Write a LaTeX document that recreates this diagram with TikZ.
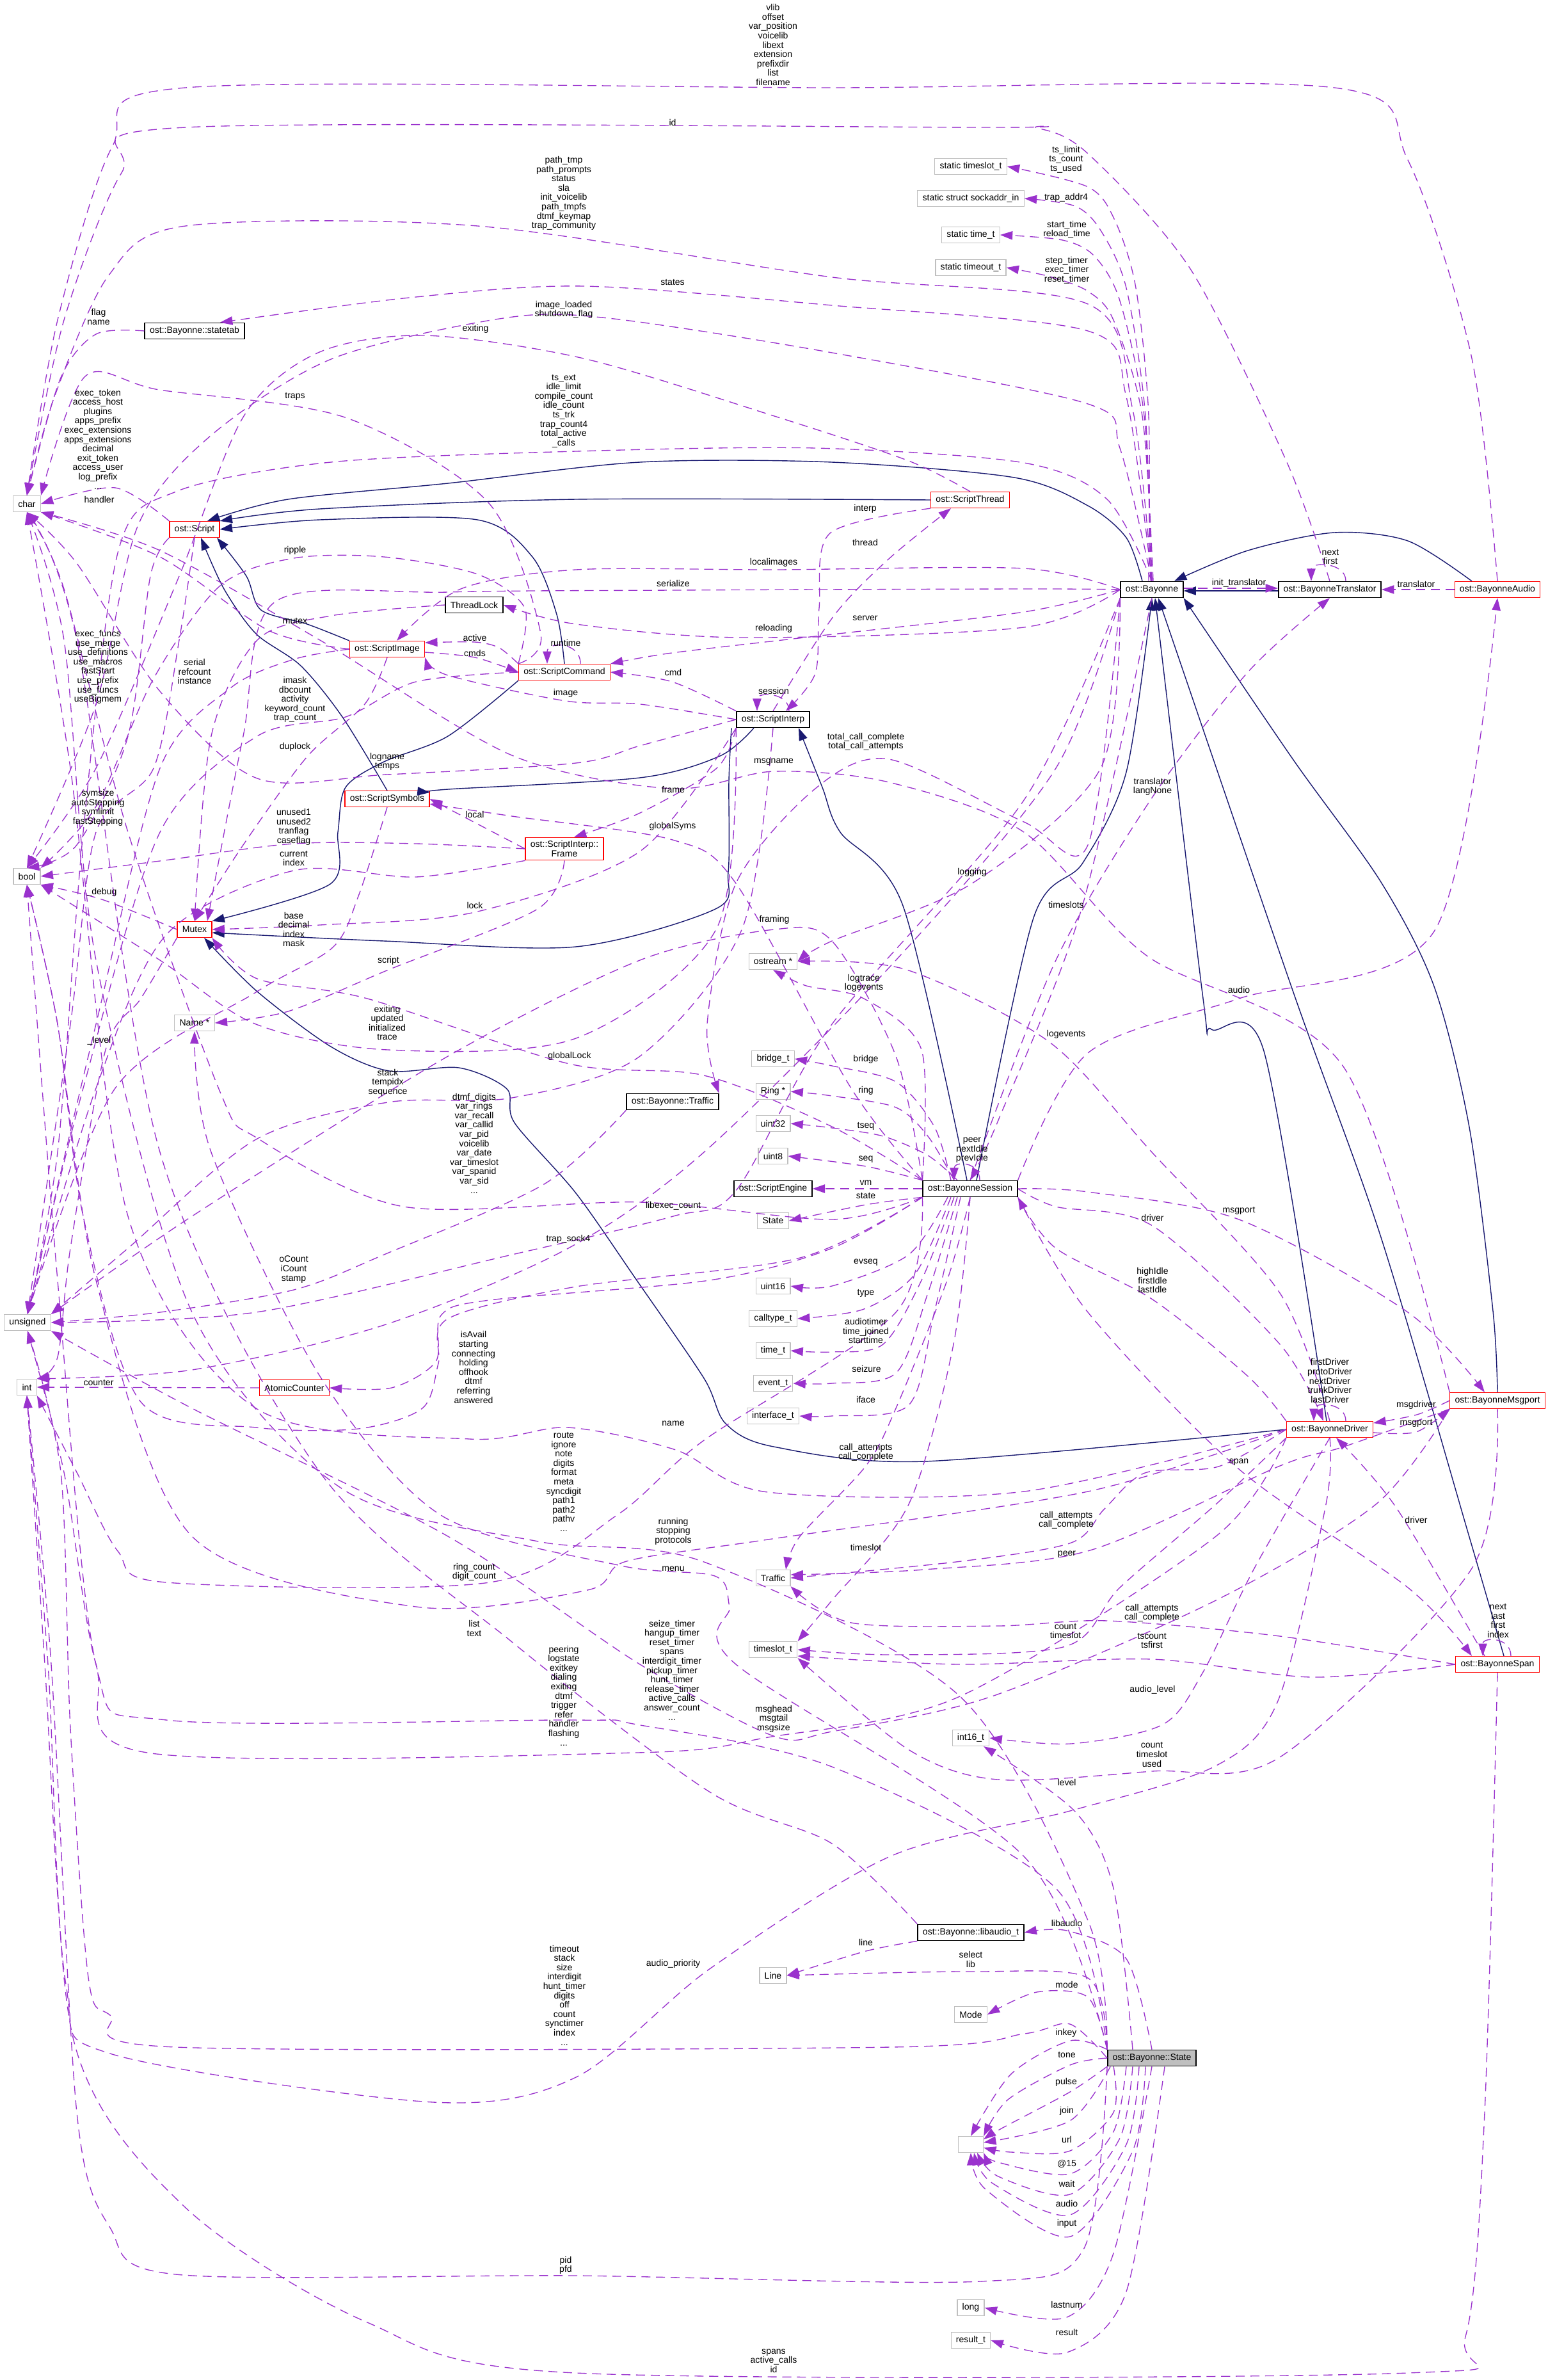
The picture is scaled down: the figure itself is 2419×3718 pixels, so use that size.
\documentclass[tikz,border=0pt]{standalone}
\usepackage{fontspec}
\setmainfont{Liberation Sans}
\usetikzlibrary{arrows.meta}
\definecolor{dgpurple}{HTML}{9A32CD}
\definecolor{dgnavy}{HTML}{191970}
\definecolor{dggray}{HTML}{BFBFBF}
\newcommand{\dgfont}{\fontsize{4}{4.15}\selectfont}
\tikzset{
  cls/.style={draw=black, line width=0.45pt, fill=white, font=\dgfont, align=center, inner xsep=2.2pt, inner ysep=0pt, minimum height=0.25cm},
  redcls/.style={cls, draw=red, line width=0.35pt},
  graycls/.style={cls, draw=dggray, line width=0.35pt},
  lbl/.style={font=\dgfont, align=center, inner sep=0pt},
  dep/.style={draw=dgpurple, line width=0.38pt, dash pattern=on 4pt off 2.5pt, -{Triangle[length=5.5pt,width=3.8pt]}},
  inh/.style={draw=dgnavy, line width=0.4pt, -{Triangle[length=5.5pt,width=3.8pt]}},
  lane/.style={smooth, tension=0.5},
}
\begin{document}
\begin{tikzpicture}[x=0.01cm, y=-0.01cm]
\useasboundingbox (0,0) rectangle (2419,3718);

\node[graycls] (char) at (42,787) {char};
\node[graycls] (bool) at (42,1369) {bool};
\node[graycls] (unsigned) at (43,2066) {unsigned};
\node[graycls] (int) at (42,2167) {int};
\node[cls] (statetab) at (304,517) {ost::Bayonne::statetab};
\node[redcls] (script) at (304,827) {ost::Script};
\node[cls] (threadlock) at (741,945) {ThreadLock};
\node[redcls] (image) at (605,1014) {ost::ScriptImage};
\node[redcls] (command) at (882,1050) {ost::ScriptCommand};
\node[redcls] (symbols) at (605,1248) {ost::ScriptSymbols};
\node[redcls] (thread) at (1516,781) {ost::ScriptThread};
\node[cls] (interp) at (1208,1124) {ost::ScriptInterp};
\node[redcls, inner ysep=1.5pt] (frame) at (882,1326) {ost::ScriptInterp::\\Frame};
\node[redcls] (mutex) at (304,1452) {Mutex};
\node[graycls] (name) at (304,1598) {Name *};
\node[cls] (bayonne) at (1800,921) {ost::Bayonne};
\node[cls] (translator) at (2078,921) {ost::BayonneTranslator};
\node[redcls] (audio) at (2340,921) {ost::BayonneAudio};
\node[graycls] (stimeslot) at (1517,260) {static timeslot\_t};
\node[graycls] (ssockaddr) at (1517,310) {static struct sockaddr\_in};
\node[graycls] (stime) at (1517,367) {static time\_t};
\node[graycls] (stimeout) at (1517,418) {static timeout\_t};
\node[graycls] (ostream) at (1208,1502) {ostream *};
\node[graycls] (bridge) at (1208,1654) {bridge\_t};
\node[graycls] (ring) at (1208,1705) {Ring *};
\node[graycls] (uintTT) at (1208,1755) {uint32};
\node[graycls] (uintE) at (1208,1806) {uint8};
\node[cls] (engine) at (1208,1857) {ost::ScriptEngine};
\node[graycls] (statetype) at (1208,1907) {State};
\node[cls] (session) at (1516,1857) {ost::BayonneSession};
\node[cls] (traffic) at (1051,1721) {ost::Bayonne::Traffic};
\node[graycls] (uintST) at (1208,2009) {uint16};
\node[graycls] (calltype) at (1208,2060) {calltype\_t};
\node[graycls] (timet) at (1208,2110) {time\_t};
\node[graycls] (eventt) at (1208,2161) {event\_t};
\node[graycls] (ifacet) at (1208,2212) {interface\_t};
\node[graycls] (traffict) at (1208,2465) {Traffic};
\node[graycls] (timeslott) at (1208,2577) {timeslot\_t};
\node[graycls] (intST) at (1517,2715) {int16\_t};
\node[redcls] (counter) at (460,2168) {AtomicCounter};
\node[redcls] (driver) at (2078,2233) {ost::BayonneDriver};
\node[redcls] (msgport) at (2340,2188) {ost::BayonneMsgport};
\node[redcls] (span) at (2340,2600) {ost::BayonneSpan};
\node[cls] (libaudio) at (1517,3019) {ost::Bayonne::libaudio\_t};
\node[graycls] (linet) at (1208,3086) {Line};
\node[graycls] (modet) at (1517,3147) {Mode};
\node[cls, fill=dggray] (state) at (1800,3215) {ost::Bayonne::State};
\node[graycls, minimum width=0.39cm] (blank) at (1517,3350) {};
\node[graycls] (longt) at (1517,3605) {long};
\node[graycls] (resultt) at (1517,3656) {result\_t};

\draw[inh] plot[lane] coordinates {(image.north west) (480,975) (408,953) (385,900) ([xshift=0.35cm]script.south)};
\draw[inh] plot[lane] coordinates {(symbols.north) (535,1120) (470,1040) (400,990) (350,920) ([xshift=0.1cm]script.south)};
\draw[inh] plot[lane] coordinates {(command.north) (870,960) (832,870) (746,812) (500,812) (script.east)};
\draw[inh] plot[lane] coordinates {(thread.west) (900,780) (500,795) (script.north east)};
\draw[inh] plot[lane] coordinates {([xshift=-0.15cm]bayonne.north) (1760,840) (1700,790) (1585,746) (1300,722) (1000,722) (700,755) (450,780) ([xshift=0.2cm]script.north)};
\draw[inh] plot[lane] coordinates {(command.south west) (700,1150) (600,1190) (540,1230) (528,1300) (516,1381) (mutex.north east)};
\draw[inh] plot[lane] coordinates {([xshift=-0.3cm]interp.south) (1125,1181) (1000,1215) (700,1233) ([yshift=0.1cm]symbols.east)};
\draw[inh] plot[lane] coordinates {([xshift=-0.65cm]interp.south) (1139,1220) (1138,1362) (1118,1420) (900,1479) (600,1470) ([yshift=-0.05cm]mutex.east)};
\draw[inh] plot[lane] coordinates {([xshift=-0.05cm]session.north) (1411,1415) (1313,1300) (1285,1230) ([xshift=0.4cm]interp.south)};
\draw[inh] plot[lane] coordinates {([xshift=0.1cm]session.north) (1615,1434) (1692,1348) (1760,1206) (bayonne.south)};
\draw[inh] plot[lane] coordinates {([xshift=-0.05cm]driver.north) (1975,1642) (1893,1608) (1880,1560) ([xshift=0.05cm]bayonne.south)};
\draw[inh] plot[lane] coordinates {([xshift=0.1cm]span.north) (2296,2401) (2158,1933) (2021,1550) ([xshift=0.1cm]bayonne.south)};
\draw[inh] plot[lane] coordinates {(msgport.north) (2333,2048) (2296,1761) (2241,1541) (2158,1378) (2021,1187) (bayonne.south east)};
\draw[inh] ([yshift=-0.02cm]translator.west) -- ([yshift=-0.02cm]bayonne.east);
\draw[inh] plot[lane] coordinates {([xshift=-0.4cm]audio.north) (2200,845) (2085,832) (1950,860) ([xshift=0.35cm]bayonne.north)};
\draw[inh] plot[lane] coordinates {(driver.west) (1444,2283) (1209,2260) (1134,2224) (1100,2153) (995,2000) (900,1864) (804,1754) (792,1701) (717,1668) (608,1673) (517,1635) (402,1549) ([xshift=0.15cm]mutex.south)};

\draw[dep] plot[lane] coordinates {(audio.north) (2300,560) (2200,250) (2085,137) (1300,137) (290,137) (175,230) (90,500) (char.north)};
\draw[dep] plot[lane] coordinates {(translator.north) (2010,720) (1860,420) (1700,240) (1621,200) (1535,199) (290,199) (190,270) (100,500) (char.north)};
\draw[dep] plot[lane] coordinates {(bayonne.north) (1770,640) (1700,475) (1300,433) (746,353) (290,353) (170,430) (85,620) (char.north)};
\draw[dep] plot[lane] coordinates {(bayonne.north) (1760,620) (1700,517) (1300,477) (912,447) (640,465) ([xshift=0.4cm]statetab.north)};
\draw[dep] plot[lane] coordinates {(statetab.west) (150,522) (95,590) (char.north)};
\draw[dep] plot[lane] coordinates {(bayonne.north) (1750,700) (1700,631) (1300,551) (950,497) (787,497) (520,560) (330,680) (216,820) (150,1100) (bool.north)};
\draw[dep] plot[lane] coordinates {(thread.north) (1420,720) (1210,650) (912,560) (663,524) (497,551) (381,650) (280,900) (150,1200) (bool.north)};
\draw[dep] plot[lane] coordinates {(command.north west) (845,990) (763,785) (539,652) (249,609) (133,588) (char.north east)};
\draw[dep] plot[lane] coordinates {(bayonne.north) (1730,780) (1600,723) (1274,700) (900,705) (517,722) (275,768) (185,860) (130,1300) (90,1800) (unsigned.north)};
\draw[dep] plot[lane] coordinates {(script.north west) (180,762) (char.east)};
\draw[dep] plot[lane] coordinates {(image.west) (420,985) (250,870) (char.south east)};
\draw[dep] plot[lane] coordinates {(command.north west) (820,950) (746,897) (600,870) (459,872) (344,915) (240,1060) (150,1260) (bool.north east)};
\draw[dep] plot[lane] coordinates {(threadlock.west) (517,962) (402,1000) (330,1150) (mutex.north)};
\draw[dep] plot[lane] coordinates {(command.north west) (780,1012) (742,1003) ([yshift=0.1cm]image.east)};
\draw[dep] plot[lane] coordinates {([yshift=-0.05cm]image.east) (742,1027) (command.west)};
\draw[dep] ([xshift=0.25cm]command.north) .. controls +(0,-35) and +(0,-35) .. ([xshift=-0.27cm]command.north);
\draw[dep] plot[lane] coordinates {(interp.west) (1000,1100) (884,1095) (700,1055) (image.south east)};
\draw[dep] plot[lane] coordinates {(command.west) (650,1065) (540,1120) (402,1150) (250,1300) (130,1700) (unsigned.north)};
\draw[dep] plot[lane] coordinates {(image.south) (570,1100) (480,1182) (380,1320) (mutex.north)};
\draw[dep] plot[lane] coordinates {(image.west) (459,1030) (360,1075) (250,1200) (150,1600) (unsigned.north)};
\draw[dep] plot[lane] coordinates {(script.south west) (235,900) (200,1150) (120,1320) (bool.north)};
\draw[dep] plot[lane] coordinates {(interp.west) (1000,1165) (900,1192) (605,1210) (402,1216) (250,1080) (120,880) (char.south)};
\draw[dep] plot[lane] coordinates {(frame.west) (742,1285) (symbols.east)};
\draw[dep] plot[lane] coordinates {(session.north west) (1330,1700) (1150,1380) (1051,1312) (800,1275) ([yshift=-0.08cm]symbols.east)};
\draw[dep] plot[lane] coordinates {(frame.west) (650,1318) (459,1318) (250,1345) (bool.east)};
\draw[dep] plot[lane] coordinates {(frame.south west) (650,1370) (459,1360) (260,1460) (150,1700) (unsigned.north)};
\draw[dep] plot[lane] coordinates {(script.south) (280,1000) (240,1200) (150,1300) (110,1600) (unsigned.north)};
\draw[dep] plot[lane] coordinates {(mutex.west) (159,1405) (bool.south east)};
\draw[dep] plot[lane] coordinates {(symbols.south) (560,1400) (520,1480) (400,1550) (180,1700) (unsigned.north)};
\draw[dep] plot[lane] coordinates {(interp.south west) (1000,1330) (742,1425) (500,1445) (mutex.east)};
\draw[dep] plot[lane] coordinates {(frame.south) (840,1420) (607,1515) (450,1580) (name.east)};
\draw[dep] plot[lane] coordinates {(interp.south west) (1120,1450) (900,1622) (606,1640) (400,1600) (250,1500) (bool.south east)};
\draw[dep] plot[lane] coordinates {(session.north west) (1300,1760) (1100,1680) (890,1662) (574,1560) (402,1529) (mutex.south east)};
\draw[dep] plot[lane] coordinates {(interp.south) (1160,1450) (1000,1650) (800,1715) (606,1722) (400,1780) (200,1950) (unsigned.north east)};
\draw[dep] plot[lane] coordinates {(session.south west) (1300,1905) (1000,1878) (631,1885) (402,1778) (344,1706) (200,1300) (100,920) (char.south)};
\draw[dep] plot[lane] coordinates {(mutex.south west) (220,1560) (165,1640) (110,1950) (90,2120) (int.north east)};
\draw[dep] plot[lane] coordinates {(traffic.south west) (850,1850) (600,1960) (459,2015) (250,2050) (unsigned.east)};
\draw[dep] plot[lane] coordinates {(bayonne.south west) (1650,1200) (1400,1500) (1100,1800) (888,1950) (600,2070) (300,2140) (int.north east)};
\draw[dep] plot[lane] coordinates {(bayonne.south west) (1600,1250) (1300,1600) (1150,1860) (1052,1900) (800,1960) (400,2050) (unsigned.east)};
\draw[dep] plot[lane] coordinates {(session.north west) (1400,1650) (1300,1470) (1210,1452) (1000,1500) (700,1650) (300,1900) (unsigned.north east)};
\draw[dep] plot[lane] coordinates {(msgport.north west) (2099,1666) (1792,1493) (1600,1300) (1389,1222) (1209,1205) (1050,1232) (800,1180) (500,1000) (250,860) (char.south east)};
\draw[dep] plot[lane] coordinates {(bayonne.south west) (1700,1320) (1600,1284) (1389,1186) (1274,1232) (1150,1380) (1105,1600) (traffic.north east)};
\draw[dep] plot[lane] coordinates {(interp.north) (1303,962) (1389,873) ([xshift=-0.3cm]thread.south)};
\draw[dep] plot[lane] coordinates {(thread.south west) (1297,833) (1280,950) (1274,1052) ([xshift=0.2cm]interp.north)};
\draw[dep] plot[lane] coordinates {(bayonne.west) (1600,888) (1210,890) (900,890) (720,920) ([xshift=0.15cm]image.north)};
\draw[dep] plot[lane] coordinates {(bayonne.west) (1600,920) (1052,922) (700,925) (430,940) (380,1150) ([xshift=0.2cm]mutex.north)};
\draw[dep] plot[lane] coordinates {(bayonne.west) (1600,980) (1159,996) (900,975) (threadlock.east)};
\draw[dep] plot[lane] coordinates {(bayonne.west) (1600,956) (1274,994) (1050,1020) (command.north east)};
\draw[dep] plot[lane] coordinates {(interp.north west) (1050,1065) (command.east)};
\draw[dep] ([xshift=0.25cm]interp.north) .. controls +(0,-30) and +(0,-30) .. ([xshift=-0.25cm]interp.north);
\draw[dep] plot[lane] coordinates {(interp.south west) (1120,1200) (1000,1270) ([xshift=0.15cm]frame.north)};
\draw[dep] plot[lane] coordinates {(bayonne.south west) (1720,1200) (1519,1380) (1300,1470) (ostream.east)};
\draw[dep] plot[lane] coordinates {(bayonne.south) (1690,1420) (1560,1750) (session.north)};
\draw[dep] plot[lane] coordinates {(session.north west) (1440,1640) (1350,1560) (1260,1540) (ostream.south)};
\draw[dep] plot[lane] coordinates {(driver.north) (2000,2020) (1800,1800) (1640,1628) (1417,1515) (ostream.east)};
\draw[dep] plot[lane] coordinates {(session.north) (1650,1500) (1801,1245) (1950,1050) (translator.south)};
\draw[dep] plot[lane] coordinates {(session.north east) (1700,1645) (1936,1560) (2241,1455) (audio.south)};
\draw[dep] plot[lane] coordinates {(session.east) (1700,1862) (1936,1905) (2200,2050) ([xshift=-0.2cm]msgport.north)};
\draw[dep] plot[lane] coordinates {(session.east) (1650,1885) (1801,1915) (2000,2100) ([xshift=-0.1cm]driver.north)};
\draw[dep] plot[lane] coordinates {(driver.north west) (1950,2150) (1801,2030) (1650,1950) (session.south east)};
\draw[dep] ([xshift=0.25cm]driver.north) .. controls +(0,-30) and +(0,-30) .. ([xshift=-0.25cm]driver.north);
\draw[dep] plot[lane] coordinates {(msgport.west) (2214,2210) ([yshift=0.1cm]driver.east)};
\draw[dep] plot[lane] coordinates {([yshift=-0.05cm]driver.east) (2213,2237) (msgport.south west)};
\draw[dep] plot[lane] coordinates {(session.south east) (1700,2050) (1936,2295) (2200,2480) ([xshift=-0.4cm]span.north)};
\draw[dep] plot[lane] coordinates {([xshift=-0.2cm]span.north) (2181,2354) ([xshift=0.1cm]driver.south)};
\draw[dep] ([xshift=0.21cm]span.north) .. controls +(0,-30) and +(0,-30) .. ([xshift=-0.23cm]span.north);
\draw[dep] ([xshift=0.25cm]translator.north) .. controls +(0,-30) and +(0,-30) .. ([xshift=-0.29cm]translator.north);
\draw[dep] ([xshift=0.15cm]session.north) .. controls +(0,-30) and +(0,-30) .. ([xshift=-0.25cm]session.north);
\draw[dep] plot[lane] coordinates {(session.south) (1480,2000) (1400,2200) (1353,2290) (1250,2400) ([xshift=0.2cm]traffict.north)};
\draw[dep] plot[lane] coordinates {(driver.west) (1904,2291) (1789,2301) (1726,2357) (1674,2410) (1502,2439) (traffict.east)};
\draw[dep] plot[lane] coordinates {(span.west) (2000,2556) (1731,2532) (1559,2540) (1330,2535) (traffict.south east)};
\draw[dep] plot[lane] coordinates {(msgport.south west) (2100,2260) (2000,2290) (1703,2422) (1444,2452) ([yshift=0.05cm]traffict.east)};
\draw[dep] plot[lane] coordinates {(session.south) (1490,2100) (1420,2350) (1300,2500) (timeslott.north east)};
\draw[dep] plot[lane] coordinates {(driver.south west) (1900,2350) (1750,2480) (1665,2572) (1400,2585) (timeslott.east)};
\draw[dep] plot[lane] coordinates {(span.west) (2050,2620) (1800,2592) (1500,2600) ([yshift=-0.1cm]timeslott.east)};
\draw[dep] plot[lane] coordinates {(msgport.south) (2300,2450) (2000,2745) (1800,2767) (1559,2780) (1421,2734) (timeslott.south east)};
\draw[dep] plot[lane] coordinates {([xshift=-0.3cm]state.north) (1740,2950) (1680,2830) ([xshift=0.2cm]intST.south)};
\draw[dep] plot[lane] coordinates {(driver.south) (1960,2450) (1880,2612) (1817,2694) (1674,2724) (intST.east)};
\draw[dep] plot[lane] coordinates {(msgport.south west) (2150,2350) (1900,2500) (1550,2650) (1300,2705) (1209,2712) (1000,2600) (700,2400) (300,2200) (unsigned.south east)};
\draw[dep] plot[lane] coordinates {(session.south west) (1300,1950) (1109,2000) (765,2031) (689,2055) (681,2127) (612,2168) (counter.east)};
\draw[dep] plot[lane] coordinates {(session.south west) (1250,1965) (900,2010) (700,2060) (685,2130) (660,2200) (560,2232) (400,2230) (220,2190) (130,1900) (90,1600) (bool.south)};
\draw[dep] (counter.west) -- (int.east);
\draw[dep] plot[lane] coordinates {(driver.west) (1600,2330) (1200,2331) (1056,2265) (887,2230) (734,2248) (400,2200) (200,1900) (110,1200) (char.south)};
\draw[dep] plot[lane] coordinates {(state.north west) (1700,3000) (1500,2650) (1100,2440) (841,2408) (535,2326) (300,2050) (150,1500) (100,1000) (char.south)};
\draw[dep] plot[lane] coordinates {(driver.west) (1700,2330) (1200,2405) (979,2439) (918,2484) (650,2510) (300,2400) (150,2000) (90,1600) (bool.south)};
\draw[dep] plot[lane] coordinates {(session.south west) (1400,2050) (1100,2250) (964,2367) (765,2472) (260,2472) (184,2423) (120,2300) (int.south east)};
\draw[dep] plot[lane] coordinates {(state.north west) (1600,2900) (1150,2600) (1140,2510) (1117,2462) (971,2446) (689,2367) (500,2150) (330,1800) (name.south)};
\draw[dep] plot[lane] coordinates {(libaudio.north west) (1300,2880) (1110,2800) (800,2565) (500,2300) (250,1800) (120,1000) (char.south)};
\draw[dep] plot[lane] coordinates {(state.north west) (1650,2950) (1300,2760) (995,2694) (895,2687) (260,2687) (150,2600) (90,2000) (bool.south)};
\draw[dep] plot[lane] coordinates {(driver.south west) (1900,2400) (1500,2650) (1200,2714) (995,2738) (230,2738) (150,2600) (100,2300) (unsigned.south)};
\draw[dep] plot[lane] coordinates {(libaudio.south west) (1353,3048) (linet.east)};
\draw[dep] plot[lane] coordinates {(state.north) (1760,3060) (1667,3016) (libaudio.east)};
\draw[dep] plot[lane] coordinates {(state.north west) (1700,3090) (1517,3080) (linet.east)};
\draw[dep] plot[lane] coordinates {(state.north west) (1700,3120) (1620,3112) (modet.east)};
\draw[dep] plot[lane] coordinates {(driver.south) (2072,2350) (1997,2657) (1899,2759) (1672,2829) (1391,2900) (1110,3075) (900,3245) (677,3284) (172,3208) (103,3100) (70,2600) (int.south)};
\draw[dep] plot[lane] coordinates {(state.west) (1672,3162) (1601,3177) (1391,3198) (275,3198) (172,3148) (138,3089) (110,2700) (95,2300) (unsigned.south)};
\draw[dep] plot[lane] coordinates {(state.north west) (1672,3188) (1580,3240) (blank.north)};
\draw[dep] plot[lane] coordinates {(state.west) (1672,3226) (1575,3280) (blank.north east)};
\draw[dep] plot[lane] coordinates {(state.south west) (1672,3268) (1565,3325) ([yshift=0.08cm]blank.east)};
\draw[dep] plot[lane] coordinates {([xshift=0.05cm]state.south west) (1672,3313) ([yshift=0.03cm]blank.east)};
\draw[dep] plot[lane] coordinates {([xshift=0.1cm]state.south west) (1740,3300) (1672,3360) (1580,3362) ([yshift=-0.05cm]blank.east)};
\draw[dep] plot[lane] coordinates {([xshift=-0.4cm]state.south) (1740,3330) (1672,3396) (1560,3378) (blank.south east)};
\draw[dep] plot[lane] coordinates {([xshift=-0.3cm]state.south) (1750,3340) (1672,3428) (1560,3400) ([xshift=0.1cm]blank.south)};
\draw[dep] plot[lane] coordinates {([xshift=-0.2cm]state.south) (1760,3350) (1672,3460) (1550,3410) ([xshift=0.05cm]blank.south)};
\draw[dep] plot[lane] coordinates {([xshift=-0.1cm]state.south) (1770,3360) (1672,3494) (1540,3420) (blank.south)};
\draw[dep] plot[lane] coordinates {(state.south west) (1693,3514) (1531,3564) (900,3555) (275,3553) (172,3480) (120,3300) (80,2600) (int.south)};
\draw[dep] plot[lane] coordinates {(state.south) (1740,3520) (1667,3620) (longt.east)};
\draw[dep] plot[lane] coordinates {([xshift=0.2cm]state.south) (1760,3580) (1667,3675) (resultt.east)};
\draw[dep] plot[lane] coordinates {(span.south) (2320,3300) (2290,3650) (2200,3707) (900,3707) (574,3628) (287,3446) (115,3187) (75,2600) (int.south)};
\draw[dep] plot[lane] coordinates {([xshift=-0.05cm]bayonne.north) (1795,650) (1775,450) (1742,344) (1700,292) (stimeslot.east)};
\draw[dep] plot[lane] coordinates {([xshift=-0.02cm]bayonne.north) (1790,650) (1760,450) (1720,360) (1680,322) (ssockaddr.east)};
\draw[dep] plot[lane] coordinates {(bayonne.north) (1788,650) (1750,470) (1710,400) (1660,375) (stime.east)};
\draw[dep] plot[lane] coordinates {([xshift=0.02cm]bayonne.north) (1785,650) (1740,500) (1700,455) (1640,432) (stimeout.east)};
\draw[dep] ([yshift=0.02cm]bayonne.east) -- ([yshift=0.02cm]translator.west);
\draw[dep] (audio.west) -- (translator.east);
\draw[dep] plot[lane] coordinates {([xshift=-0.3cm]session.north) (1460,1760) (1400,1690) (1300,1665) (bridge.east)};
\draw[dep] plot[lane] coordinates {([xshift=-0.25cm]session.north) (1450,1775) (1400,1730) (1300,1712) (ring.east)};
\draw[dep] plot[lane] coordinates {([xshift=-0.2cm]session.north) (1450,1805) (1380,1775) (1300,1762) (uintTT.east)};
\draw[dep] plot[lane] coordinates {(session.north west) (1353,1822) (uintE.east)};
\draw[dep] (session.west) -- (engine.east);
\draw[dep] plot[lane] coordinates {(session.south west) (1353,1882) (statetype.east)};
\draw[dep] plot[lane] coordinates {([xshift=-0.35cm]session.south) (1420,1960) (1300,2009) (uintST.east)};
\draw[dep] plot[lane] coordinates {([xshift=-0.3cm]session.south) (1430,1990) (1350,2045) (calltype.east)};
\draw[dep] plot[lane] coordinates {([xshift=-0.25cm]session.south) (1440,2000) (1380,2100) (1300,2112) (timet.east)};
\draw[dep] plot[lane] coordinates {([xshift=-0.2cm]session.south) (1450,2020) (1400,2145) (1300,2161) (eventt.east)};
\draw[dep] plot[lane] coordinates {([xshift=-0.15cm]session.south) (1460,2050) (1420,2195) (1300,2212) (ifacet.east)};

\node[lbl] (lbVlib) at (1208,70) {vlib\\offset\\var\_position\\voicelib\\libext\\extension\\prefixdir\\list\\filename};
\node[lbl] (lbId) at (1051,191) {id};
\node[lbl] (lbPath) at (881,302) {path\_tmp\\path\_prompts\\status\\sla\\init\_voicelib\\path\_tmpfs\\dtmf\_keymap\\trap\_community};
\node[lbl] (lbStates) at (1051,441) {states};
\node[lbl] (lbFlag) at (154,495) {flag\\name};
\node[lbl] (lbImgLoaded) at (881,484) {image\_loaded\\shutdown\_flag};
\node[lbl] (lbExiting) at (743,514) {exiting};
\node[lbl] (lbTraps) at (461,619) {traps};
\node[lbl] (lbTsExt) at (881,642) {ts\_ext\\idle\_limit\\compile\_count\\idle\_count\\ts\_trk\\trap\_count4\\total\_active\\\_calls};
\node[lbl] (lbExecTok) at (153,686) {exec\_token\\access\_host\\plugins\\apps\_prefix\\exec\_extensions\\apps\_extensions\\decimal\\exit\_token\\access\_user\\log\_prefix\\...};
\node[lbl] (lbHandler) at (155,780) {handler};
\node[lbl] (lbRipple) at (461,860) {ripple};
\node[lbl] (lbMutex) at (461,970) {mutex};
\node[lbl] (lbActive) at (742,996) {active};
\node[lbl] (lbCmds) at (742,1020) {cmds};
\node[lbl] (lbRuntime) at (884,1004) {runtime};
\node[lbl] (lbImage) at (884,1083) {image};
\node[lbl] (lbImask) at (461,1093) {imask\\dbcount\\activity\\keyword\_count\\trap\_count};
\node[lbl] (lbDuplock) at (461,1167) {duplock};
\node[lbl] (lbSerial) at (304,1049) {serial\\refcount\\instance};
\node[lbl] (lbExecFuncs) at (153,1042) {exec\_funcs\\use\_merge\\use\_definitions\\use\_macros\\fastStart\\use\_prefix\\use\_funcs\\useBigmem};
\node[lbl] (lbLogname) at (605,1190) {logname\\temps};
\node[lbl] (lbLocal) at (742,1272) {local};
\node[lbl] (lbGlobalSyms) at (1051,1291) {globalSyms};
\node[lbl] (lbUnused) at (459,1292) {unused1\\unused2\\tranflag\\caseflag};
\node[lbl] (lbCurrent) at (459,1341) {current\\index};
\node[lbl] (lbSymsize) at (153,1262) {symsize\\autoStepping\\symlimit\\fastStepping};
\node[lbl] (lbDebug) at (159,1394) {\_debug};
\node[lbl] (lbBase) at (459,1452) {base\\decimal\\index\\mask};
\node[lbl] (lbLock) at (742,1414) {lock};
\node[lbl] (lbScript) at (607,1501) {script};
\node[lbl] (lbExitUpd) at (605,1598) {exiting\\updated\\initialized\\trace};
\node[lbl] (lbGlobalLock) at (890,1650) {globalLock};
\node[lbl] (lbStack) at (606,1691) {stack\\tempidx\\sequence};
\node[lbl] (lbDtmf) at (741,1786) {dtmf\_digits\\var\_rings\\var\_recall\\var\_callid\\var\_pid\\voicelib\\var\_date\\var\_timeslot\\var\_spanid\\var\_sid\\...};
\node[lbl] (lbLevel) at (155,1626) {\_level};
\node[lbl] (lbOCount) at (459,1983) {oCount\\iCount\\stamp};
\node[lbl] (lbTrapSock) at (888,1936) {trap\_sock4};
\node[lbl] (lbLibexec) at (1052,1884) {libexec\_count};
\node[lbl] (lbFraming) at (1210,1437) {framing};
\node[lbl] (lbMsgname) at (1209,1190) {msgname};
\node[lbl] (lbTotalCall) at (1353,1159) {total\_call\_complete\\total\_call\_attempts};
\node[lbl] (lbThread) at (1352,847) {thread};
\node[lbl] (lbInterp) at (1352,795) {interp};
\node[lbl] (lbLocalImages) at (1209,879) {localimages};
\node[lbl] (lbSerialize) at (1052,911) {serialize};
\node[lbl] (lbReloading) at (1209,982) {reloading};
\node[lbl] (lbServer) at (1352,966) {server};
\node[lbl] (lbCmd) at (1052,1050) {cmd};
\node[lbl] (lbSession) at (1209,1079) {session};
\node[lbl] (lbFrame) at (1052,1233) {frame};
\node[lbl] (lbLogging) at (1519,1363) {logging};
\node[lbl] (lbTimeslots) at (1666,1413) {timeslots};
\node[lbl] (lbLogtrace) at (1350,1536) {logtrace\\logevents};
\node[lbl] (lbLogevents) at (1666,1616) {logevents};
\node[lbl] (lbTranslator) at (1801,1229) {translator\\langNone};
\node[lbl] (lbAudio) at (1936,1546) {audio};
\node[lbl] (lbMsgport) at (1936,1891) {msgport};
\node[lbl] (lbDriver) at (1801,1902) {driver};
\node[lbl] (lbHighIdle) at (1801,2000) {highIdle\\firstIdle\\lastIdle};
\node[lbl] (lbFirstDriver) at (2078,2157) {firstDriver\\protoDriver\\nextDriver\\trunkDriver\\lastDriver};
\node[lbl] (lbMsgdriver) at (2213,2195) {msgdriver};
\node[lbl] (lbMsgportB) at (2213,2223) {msgport};
\node[lbl] (lbSpan) at (1936,2284) {span};
\node[lbl] (lbSpanDriver) at (2213,2374) {driver};
\node[lbl] (lbNext) at (2341,2532) {next\\last\\first\\index};
\node[lbl] (lbCallA) at (1353,2269) {call\_attempts\\call\_complete};
\node[lbl] (lbCallB) at (1666,2375) {call\_attempts\\call\_complete};
\node[lbl] (lbCallC) at (1800,2520) {call\_attempts\\call\_complete};
\node[lbl] (lbPeer) at (1667,2428) {peer};
\node[lbl] (lbTimeslot) at (1353,2417) {timeslot};
\node[lbl] (lbCountTs) at (1665,2548) {count\\timeslot};
\node[lbl] (lbTscount) at (1800,2563) {tscount\\tsfirst};
\node[lbl] (lbCountUsed) at (1800,2741) {count\\timeslot\\used};
\node[lbl] (lbLevelB) at (1667,2784) {level};
\node[lbl] (lbAudioLevel) at (1801,2640) {audio\_level};
\node[lbl] (lbMsghead) at (1209,2685) {msghead\\msgtail\\msgsize};
\node[lbl] (lbIsAvail) at (740,2136) {isAvail\\starting\\connecting\\holding\\offhook\\dtmf\\referring\\answered};
\node[lbl] (lbCounter) at (154,2160) {counter};
\node[lbl] (lbName) at (1052,2224) {name};
\node[lbl] (lbRoute) at (881,2315) {route\\ignore\\note\\digits\\format\\meta\\syncdigit\\path1\\path2\\pathv\\...};
\node[lbl] (lbRunning) at (1052,2392) {running\\stopping\\protocols};
\node[lbl] (lbRingCount) at (741,2456) {ring\_count\\digit\_count};
\node[lbl] (lbMenu) at (1052,2451) {menu};
\node[lbl] (lbList) at (741,2544) {list\\text};
\node[lbl] (lbPeering) at (881,2649) {peering\\logstate\\exitkey\\dialing\\exiting\\dtmf\\trigger\\refer\\handler\\flashing\\...};
\node[lbl] (lbSeize) at (1050,2609) {seize\_timer\\hangup\_timer\\reset\_timer\\spans\\interdigit\_timer\\pickup\_timer\\hunt\_timer\\release\_timer\\active\_calls\\answer\_count\\...};
\node[lbl] (lbLine) at (1353,3034) {line};
\node[lbl] (lbLibaudio) at (1667,3004) {libaudio};
\node[lbl] (lbSelect) at (1517,3061) {select\\lib};
\node[lbl] (lbMode) at (1667,3100) {mode};
\node[lbl] (lbAudioPrio) at (1052,3068) {audio\_priority};
\node[lbl] (lbTimeout) at (882,3117) {timeout\\stack\\size\\interdigit\\hunt\_timer\\digits\\off\\count\\synctimer\\index\\...};
\node[lbl] (lbInkey) at (1666,3176) {inkey};
\node[lbl] (lbTone) at (1667,3210) {tone};
\node[lbl] (lbPulse) at (1666,3253) {pulse};
\node[lbl] (lbJoin) at (1667,3298) {join};
\node[lbl] (lbUrl) at (1667,3342) {url};
\node[lbl] (lbAt) at (1667,3380) {@15};
\node[lbl] (lbWait) at (1667,3411) {wait};
\node[lbl] (lbAudioB) at (1667,3442) {audio};
\node[lbl] (lbInput) at (1667,3474) {input};
\node[lbl] (lbPid) at (884,3539) {pid\\pfd};
\node[lbl] (lbLastnum) at (1667,3600) {lastnum};
\node[lbl] (lbResult) at (1667,3643) {result};
\node[lbl] (lbSpans) at (1209,3688) {spans\\active\_calls\\id};
\node[lbl] (lbPeerIdle) at (1519,1797) {peer\\nextIdle\\prevIdle};
\node[lbl] (lbBridge) at (1353,1655) {bridge};
\node[lbl] (lbRing) at (1353,1704) {ring};
\node[lbl] (lbTseq) at (1353,1759) {tseq};
\node[lbl] (lbSeq) at (1353,1811) {seq};
\node[lbl] (lbVm) at (1353,1848) {vm};
\node[lbl] (lbState) at (1353,1868) {state};
\node[lbl] (lbEvseq) at (1353,1972) {evseq};
\node[lbl] (lbType) at (1353,2020) {type};
\node[lbl] (lbAudiotimer) at (1353,2079) {audiotimer\\time\_joined\\starttime};
\node[lbl] (lbSeizure) at (1354,2138) {seizure};
\node[lbl] (lbIface) at (1353,2186) {iface};
\node[lbl] (lbNextFirst) at (2079,870) {next\\first};
\node[lbl] (lbInit) at (1936,911) {init\_translator};
\node[lbl] (lbTranslatorB) at (2213,912) {translator};
\node[lbl] (lbTs) at (1666,249) {ts\_limit\\ts\_count\\ts\_used};
\node[lbl] (lbTrap) at (1666,309) {trap\_addr4};
\node[lbl] (lbStart) at (1667,359) {start\_time\\reload\_time};
\node[lbl] (lbStep) at (1667,422) {step\_timer\\exec\_timer\\reset\_timer};
\end{tikzpicture}
\end{document}
